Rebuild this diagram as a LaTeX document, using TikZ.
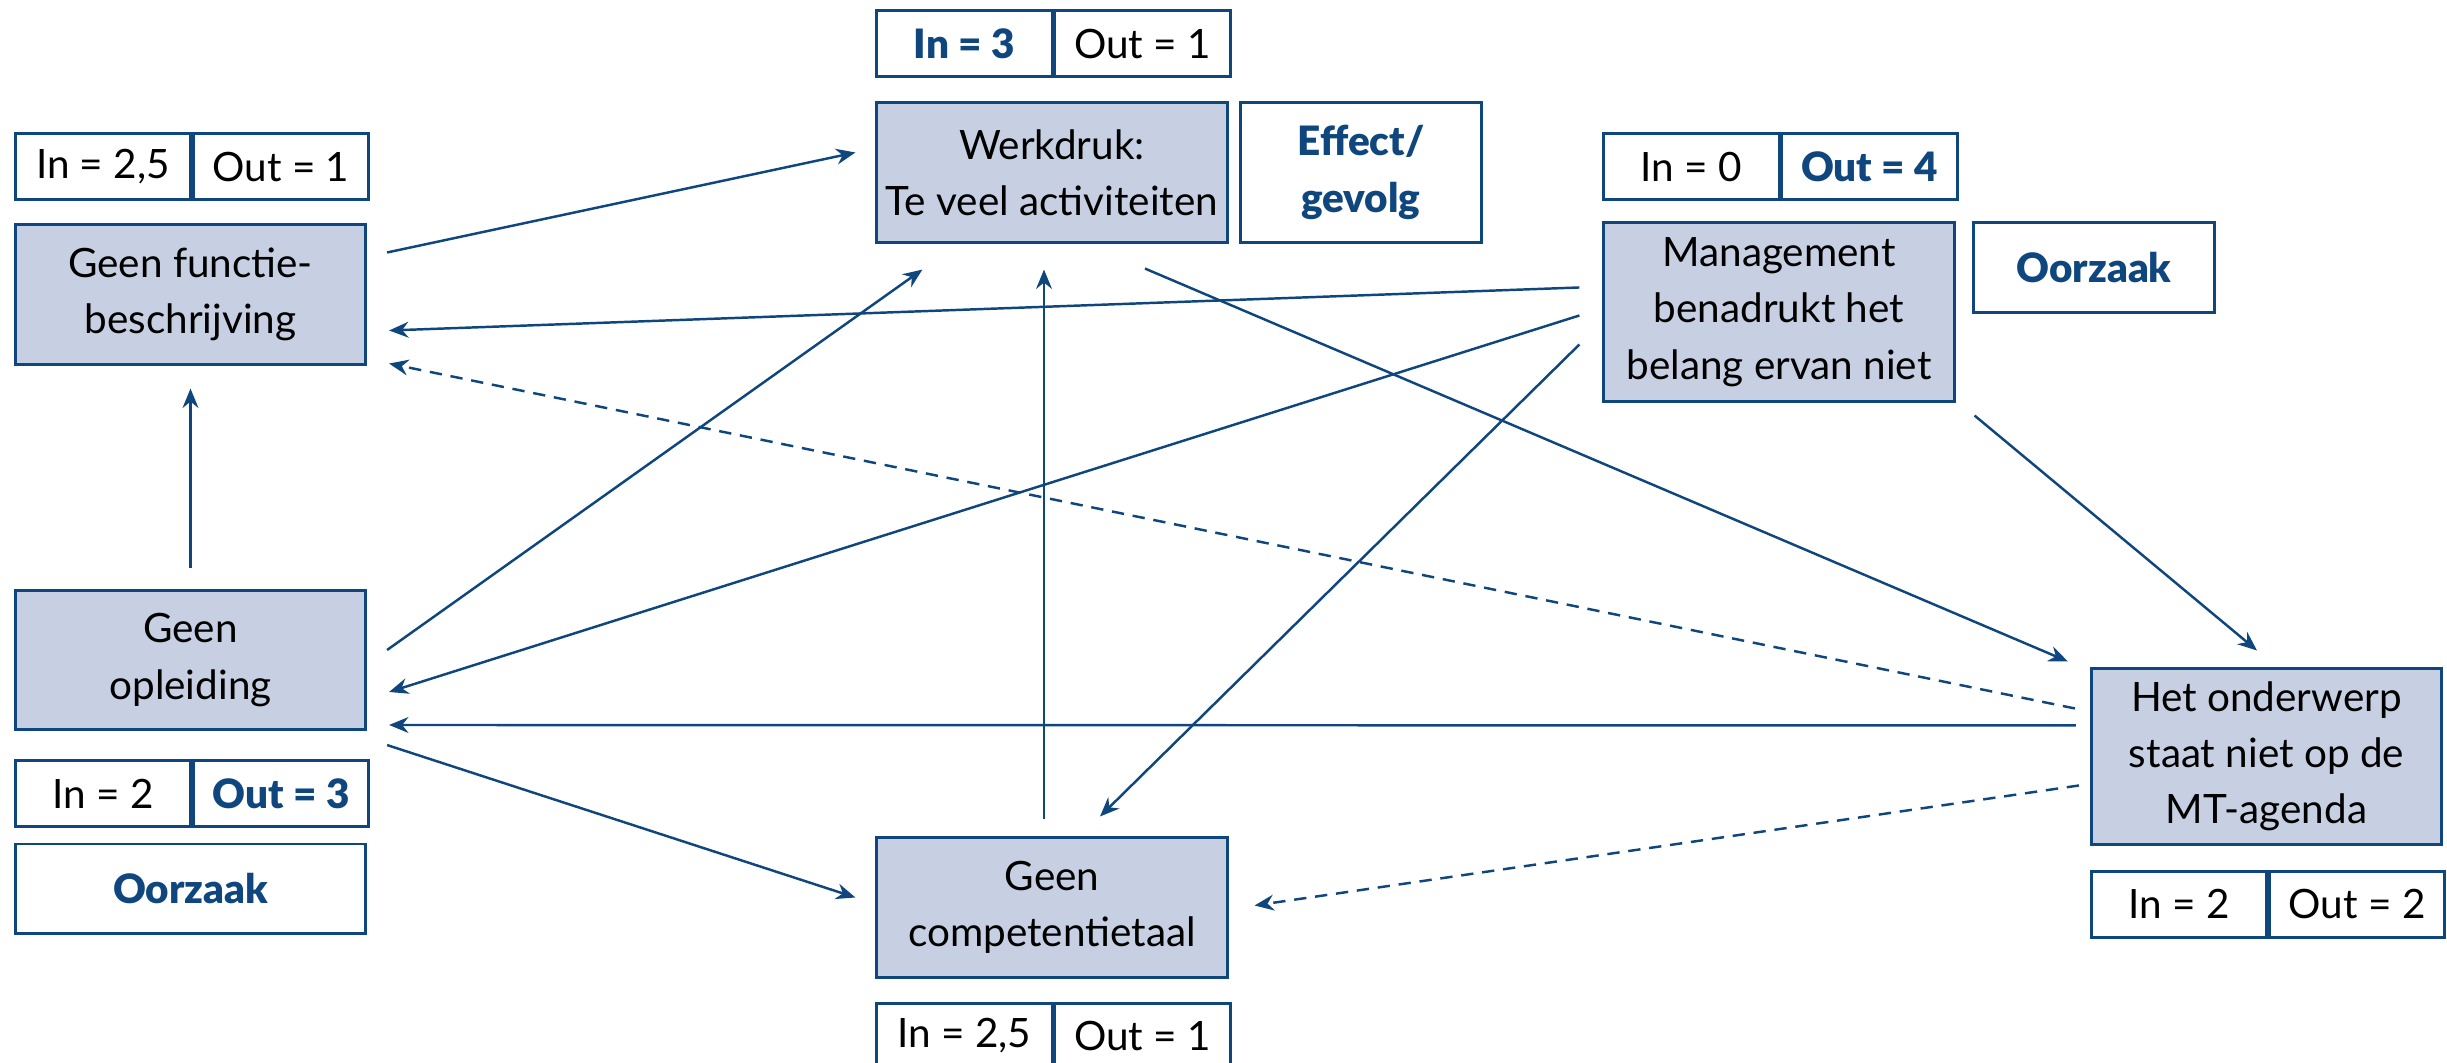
\documentclass[tikz,border=0pt]{standalone}
\usepackage{fontspec}
\setmainfont{Lato}
\newfontfamily\zwaar{Lato Black}
\usetikzlibrary{arrows.meta}
\definecolor{mtblue}{HTML}{0E467D}
\definecolor{mtfill}{HTML}{C7D0E2}

\begin{document}
\begin{tikzpicture}[x=0.01cm,y=-0.01cm,
    factor/.style={draw=mtblue,line width=0.85pt,fill=mtfill,align=center,minimum width=3.5cm,minimum height=1.39cm,inner sep=0pt,font=\fontsize{11.5}{16}\selectfont},
    soortbox/.style={draw=mtblue,line width=0.85pt,align=center,inner sep=0pt,text=mtblue,font=\fontsize{11.5}{16}\selectfont\zwaar},
    telbox/.style={draw=mtblue,line width=0.85pt,minimum width=1.75cm,minimum height=0.66cm,inner sep=0pt,font=\fontsize{11.5}{16}\selectfont},
    telvet/.style={telbox,text=mtblue,font=\fontsize{11.5}{16}\selectfont\zwaar},
    pijl/.style={draw=mtblue,line width=0.7pt,-{Stealth[length=5.5pt,width=4.5pt]}},
    stippel/.style={pijl,dash pattern=on 3.5pt off 2.5pt}]
\useasboundingbox (0,0) rectangle (2447,1062);

\node[factor] (func) at (190.5,294.5) {Geen functie-\\beschrijving};
\node[factor] (werk) at (1052,172.5) {Werkdruk:\\Te veel activiteiten};
\node[soortbox,minimum width=2.4cm,minimum height=1.39cm] (effect) at (1361,172.5) {Effect/\\gevolg};
\node[factor,minimum height=1.78cm] (mgmt) at (1779,312) {Management\\benadrukt het\\belang ervan niet};
\node[soortbox,minimum width=2.4cm,minimum height=0.89cm] (oorzaakR) at (2094,267.5) {Oorzaak};
\node[factor] (opl) at (190.5,660) {Geen\\opleiding};
\node[soortbox,minimum width=3.5cm,minimum height=0.89cm] (oorzaakL) at (190.5,888.5) {Oorzaak};
\node[factor] (comp) at (1052,907.5) {Geen\\competentietaal};
\node[factor,minimum height=1.75cm] (mt) at (2266.5,756.5) {Het onderwerp\\staat niet op de\\MT-agenda};

\node[telbox,anchor=south west] (funcIn) at ([yshift=0.22cm]func.north west) {In = 2,5};
\node[telbox,anchor=west] (funcOut) at (funcIn.east) {Out = 1};
\node[telvet,anchor=south west] (werkIn) at ([yshift=0.23cm]werk.north west) {In = 3};
\node[telbox,anchor=west] (werkOut) at (werkIn.east) {Out = 1};
\node[telbox,anchor=south west] (mgmtIn) at ([yshift=0.2cm]mgmt.north west) {In = 0};
\node[telvet,anchor=west] (mgmtOut) at (mgmtIn.east) {Out = 4};
\node[telbox,anchor=north west] (oplIn) at ([yshift=-0.28cm]opl.south west) {In = 2};
\node[telvet,anchor=west] (oplOut) at (oplIn.east) {Out = 3};
\node[telbox,anchor=north west] (compIn) at ([yshift=-0.23cm]comp.south west) {In = 2,5};
\node[telbox,anchor=west] (compOut) at (compIn.east) {Out = 1};
\node[telbox,anchor=north west] (mtIn) at ([yshift=-0.24cm]mt.south west) {In = 2};
\node[telbox,anchor=west] (mtOut) at (mtIn.east) {Out = 2};

\draw[pijl] ([shift={(20,29)}]func.north east) -- ([shift={(-20,51)}]werk.north west);
\draw[pijl] ([shift={(-23,66)}]mgmt.north west) -- ([shift={(22,107)}]func.north east);
\draw[stippel] ([shift={(-15,41)}]mt.north west) -- ([shift={(22,-2)}]func.south east);
\draw[pijl] ([yshift=0.21cm]opl.north) -- ([yshift=-0.23cm]func.south);
\draw[pijl] ([shift={(20,61)}]opl.north east) -- ([shift={(47,26)}]werk.south west);
\draw[pijl] ([shift={(-23,94)}]mgmt.north west) -- ([shift={(22,103)}]opl.north east);
\draw[pijl] ([shift={(-14,58)}]mt.north west) -- ([shift={(22,136)}]opl.north east);
\draw[pijl] ([shift={(20,14)}]opl.south east) -- ([shift={(-20,61)}]comp.north west);
\draw[pijl] ([shift={(-8,-17)}]comp.north) -- ([shift={(-8,26)}]werk.south);
\draw[pijl] ([shift={(-23,123)}]mgmt.north west) -- ([shift={(48,-20)}]comp.north);
\draw[pijl] ([shift={(93,25)}]werk.south) -- ([shift={(-22,-6)}]mt.north west);
\draw[pijl] ([shift={(19,13)}]mgmt.south east) -- ([shift={(-9.5,-17)}]mt.north);
\draw[stippel] ([shift={(-11,118)}]mt.north west) -- ([shift={(26,69)}]comp.north east);
\end{tikzpicture}
\end{document}
